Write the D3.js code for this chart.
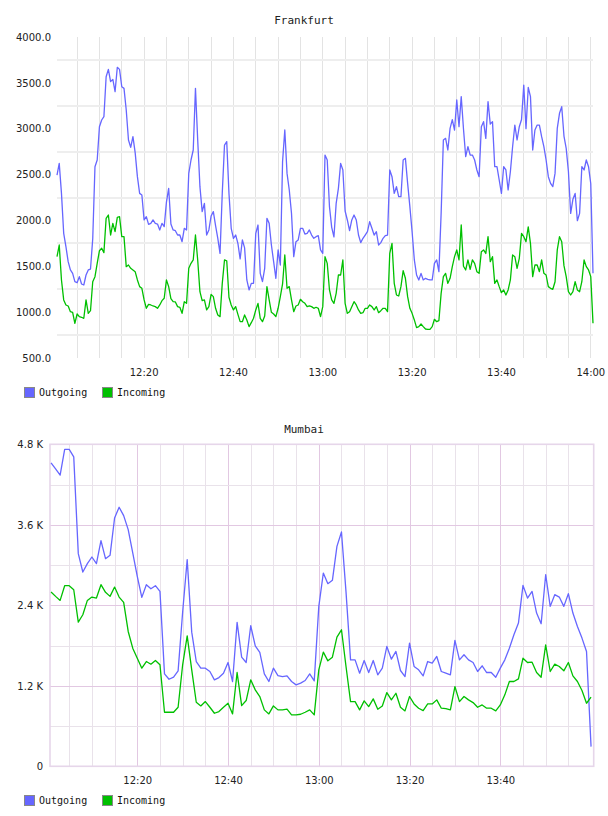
<!DOCTYPE html>
<html>
<head>
<meta charset="utf-8">
<script src="https://cdn.jsdelivr.net/npm/d3@7"></script>
<style>body{margin:0;background:#fff}</style>
</head>
<body>
<svg width="608" height="816"></svg>
<script>
// Frankfurt: one sample every 30 s from 12:00:36
const frankOut = [2495, 2622, 2295, 1859, 1714, 1550, 1460, 1423, 1332, 1321,
    1387, 1307, 1296, 1405, 1460, 1470, 1800, 2586, 2659, 3022,
    3095, 3131, 3567, 3647, 3513, 3538, 3404, 3669, 3647, 3458,
    3440, 3204, 2877, 2797, 2913, 2739, 2477, 2295, 2277, 2005,
    2041, 1957, 1968, 2005, 1968, 1961, 1896, 1968, 1932, 2200,
    2350, 1961, 1896, 1888, 1841, 1841, 1768, 1914, 1896, 2513,
    2659, 2768, 3440, 2877, 2368, 2096, 2186, 1841, 1896, 2048,
    2096, 1943, 1805, 1641, 2300, 2822, 2859, 2295, 1914, 1805,
    1841, 1750, 1580, 1787, 1700, 1351, 1242, 1314, 1314, 1859,
    1950, 1423, 1332, 1478, 2023, 1968, 1732, 1550, 1369, 1678,
    1514, 2641, 2986, 2513, 2332, 2077, 1605, 1768, 1787, 1914,
    1914, 1852, 1859, 1896, 1841, 1805, 1823, 1834, 1678, 1641,
    2713, 2659, 2150, 1925, 1820, 2186, 2350, 2622, 2550, 2103,
    2005, 1888, 2005, 2059, 2005, 1841, 1758, 1805, 1841, 1877,
    1986, 1914, 1841, 1877, 1732, 1758, 1805, 1834, 1841, 2550,
    2477, 2295, 2368, 2259, 2259, 2659, 2677, 2404, 2150, 1877,
    1569, 1405, 1351, 1423, 1351, 1369, 1358, 1351, 1351, 1532,
    1569, 1441, 2077, 2877, 2895, 2768, 3004, 3100, 2986, 3313,
    3022, 3350, 3000, 2695, 2804, 2713, 2713, 2659, 2550, 2477,
    3022, 3077, 2895, 3295, 3050, 3077, 2586, 2586, 2441, 2295,
    2586, 2550, 2332, 2531, 2804, 3040, 2877, 3022, 3100, 3476,
    3000, 3450, 3350, 2768, 2986, 3040, 3040, 2913, 2804, 2659,
    2477, 2404, 2368, 2513, 3004, 3168, 3240, 2920, 2786, 2531,
    2077, 2230, 2295, 1997, 2077, 2586, 2550, 2659, 2586, 2400,
    1423];
const frankIn = [1605, 1732, 1351, 1133, 1078, 1067, 1005, 998, 878, 980,
    951, 944, 933, 1133, 987, 1016, 1332, 1387, 1532, 1670,
    1696, 1649, 2023, 2059, 1841, 1968, 1878, 2034, 2041, 1823,
    1823, 1496, 1514, 1478, 1460, 1441, 1351, 1278, 1260, 1133,
    1042, 1085, 1078, 1067, 1060, 1042, 1078, 1125, 1151, 1351,
    1278, 1147, 1114, 1111, 1060, 1053, 987, 1114, 1096, 1478,
    1532, 1569, 1841, 1569, 1223, 1125, 1133, 1024, 1060, 1194,
    1169, 1042, 969, 951, 1314, 1569, 1560, 1162, 1078, 1024,
    1060, 976, 896, 896, 969, 915, 842, 885, 933, 1024,
    1096, 933, 896, 958, 1278, 1133, 998, 980, 951, 1042,
    1169, 1307, 1623, 1260, 1278, 1133, 1005, 1067, 1078, 1140,
    1114, 1096, 1060, 1067, 1060, 1042, 1053, 1042, 951, 1060,
    1605, 1532, 1242, 1133, 1096, 1205, 1405, 1405, 1569, 1096,
    987, 1005, 1060, 1114, 1078, 1024, 987, 994, 1042, 1042,
    1078, 1060, 1024, 1060, 994, 1016, 1042, 1042, 1005, 1641,
    1750, 1314, 1187, 1176, 1278, 1452, 1369, 1169, 1042, 987,
    915, 831, 842, 871, 842, 816, 813, 813, 842, 922,
    896, 907, 1205, 1387, 1423, 1314, 1369, 1496, 1605, 1678,
    1569, 1950, 1500, 1460, 1569, 1467, 1569, 1532, 1441, 1423,
    1659, 1678, 1640, 1823, 1550, 1605, 1314, 1351, 1278, 1212,
    1242, 1187, 1242, 1351, 1623, 1605, 1478, 1587, 1859, 1823,
    1768, 1930, 1750, 1387, 1514, 1514, 1441, 1569, 1423, 1405,
    1278, 1260, 1249, 1332, 1678, 1823, 1768, 1507, 1387, 1223,
    1187, 1223, 1332, 1242, 1223, 1332, 1569, 1496, 1460, 1387,
    878];
const frankYTicks = [500, 1000, 1500, 2000, 2500, 3000, 3500, 4000];
const frankGrid = [750, 1250, 1750, 2250, 2750, 3250, 3750];

// Mumbai: one sample a minute from 12:01
const mumOut = [4524, 4434, 4340, 4723, 4723, 4613, 3170, 2896, 3021, 3120,
    3021, 3364, 3095, 3145, 3702, 3862, 3737, 3528, 3180, 2832,
    2518, 2707, 2647, 2692, 2608, 1378, 1298, 1328, 1423, 2300,
    3081, 2000, 1562, 1463, 1463, 1413, 1289, 1323, 1388, 1547,
    1264, 2145, 1627, 1547, 2095, 1796, 1697, 1378, 1264, 1463,
    1353, 1338, 1348, 1264, 1214, 1239, 1279, 1378, 1274, 2380,
    2881, 2722, 2772, 3279, 3493, 2600, 1587, 1587, 1388, 1577,
    1398, 1577, 1363, 1463, 1786, 1597, 1712, 1428, 1338, 1836,
    1488, 1438, 1348, 1562, 1537, 1637, 1413, 1388, 1363, 1876,
    1587, 1662, 1587, 1547, 1413, 1498, 1398, 1398, 1328, 1463,
    1587, 1761, 1960, 2135, 2697, 2508, 2607, 2284, 2125, 2856,
    2384, 2558, 2523, 2384, 2573, 2284, 2085, 1911, 1712, 293];
const mumIn = [2598, 2533, 2473, 2692, 2692, 2632, 2150, 2259, 2473, 2523,
    2508, 2707, 2593, 2533, 2672, 2523, 2443, 2010, 1761, 1612,
    1463, 1562, 1522, 1577, 1513, 806, 806, 806, 880, 1513,
    1945, 1438, 955, 900, 965, 880, 791, 816, 880, 940,
    781, 1398, 905, 980, 1289, 1139, 1040, 841, 781, 900,
    841, 841, 851, 766, 766, 776, 806, 841, 766, 1438,
    1702, 1572, 1627, 1926, 2035, 1488, 965, 965, 841, 975,
    890, 1005, 851, 900, 1099, 990, 1089, 880, 826, 1040,
    930, 866, 831, 930, 930, 990, 866, 861, 841, 1189,
    965, 1040, 990, 950, 880, 915, 866, 866, 826, 915,
    1065, 1264, 1264, 1303, 1612, 1547, 1552, 1398, 1328, 1811,
    1413, 1522, 1488, 1423, 1547, 1348, 1264, 1129, 940, 1030];
const mumYTicks = [0, 1200, 2400, 3600, 4800];
const mumGridMinor = [600, 1800, 3000, 4200];
const mumYLabels = ["0", "1.2 K", "2.4 K", "3.6 K", "4.8 K"];

const series = ["Outgoing", "Incoming"];
const colors = ["#6666ff", "#00c000"];

const svg = d3.select("svg");
const at = (h, m, s) => new Date(2020, 0, 1, h, m, s || 0);
const steps = (start, n, sec) => d3.range(n).map(i => new Date(start.getTime() + i * sec * 1000));
const xTickTimes = [at(12, 20), at(12, 40), at(13, 0), at(13, 20), at(13, 40), at(14, 0)];
const tickFont = "'DejaVu Sans', sans-serif";
const monoFont = "'DejaVu Sans Mono', monospace";

function drawLines(x, y, times, data) {
    data.forEach((vals, i) => {
        const line = d3.line().x((d, j) => x(times[j])).y(d => y(d));
        svg.append("path").datum(vals)
            .attr("d", line)
            .attr("fill", "none")
            .attr("stroke", colors[i])
            .attr("stroke-width", 1.3)
            .attr("stroke-linejoin", "round");
    });
}

function legend(top) {
    const offs = [24, 102];
    series.forEach((name, i) => {
        svg.append("rect").attr("x", offs[i] + 0.5).attr("y", top + 0.5)
            .attr("width", 10).attr("height", 10)
            .attr("fill", colors[i]).attr("stroke", "#888");
        svg.append("text").attr("x", offs[i] + 15).attr("y", top + 5.5).attr("dy", "0.35em")
            .attr("font-family", monoFont).attr("font-size", 10).attr("fill", "#111")
            .text(name);
    });
}

function title(txt, yPos) {
    svg.append("text").attr("x", 304).attr("y", yPos).attr("dy", "0.35em")
        .attr("text-anchor", "middle")
        .attr("font-family", monoFont).attr("font-size", 11).attr("fill", "#222")
        .text(txt);
}

function styleAxis(g) {
    g.select(".domain").remove();
    g.selectAll("text").attr("font-family", tickFont).attr("font-size", 10).attr("fill", "#222");
}

// ---- Frankfurt ----
{
    const x = d3.scaleTime().domain([at(12, 0, 36), at(14, 0, 36)]).range([57, 593]);
    const y = d3.scaleLinear().domain([500, 4000]).range([358, 37]);
    const times = steps(at(12, 0, 36), frankOut.length, 30);

    svg.append("g").selectAll("line")
        .data(d3.timeMinute.every(5).range(at(12, 5), at(14, 0, 30)))
        .join("line")
        .attr("x1", d => Math.round(x(d)) + 0.5).attr("x2", d => Math.round(x(d)) + 0.5)
        .attr("y1", 37).attr("y2", 358)
        .attr("stroke", "#e3e3e3");
    svg.append("g").selectAll("line")
        .data(frankGrid)
        .join("line")
        .attr("x1", 57).attr("x2", 593)
        .attr("y1", d => Math.round(y(d))).attr("y2", d => Math.round(y(d)))
        .attr("stroke", "#eeeeee").attr("stroke-width", 2);

    drawLines(x, y, times, [frankOut, frankIn]);

    svg.append("g").attr("transform", "translate(57,0)")
        .call(d3.axisLeft(y).tickValues(frankYTicks).tickFormat(d3.format(".1f")).tickSize(0).tickPadding(6))
        .call(styleAxis);
    svg.append("g").attr("transform", "translate(0,358)")
        .call(d3.axisBottom(x).tickValues(xTickTimes).tickFormat(d3.timeFormat("%H:%M")).tickSize(0).tickPadding(11))
        .call(styleAxis);

    title("Frankfurt", 20.5);
    legend(387);
}

// ---- Mumbai ----
{
    const x = d3.scaleTime().domain([at(12, 0, 46), at(14, 0, 35)]).range([50, 593.7]);
    const y = d3.scaleLinear().domain([0, 4800]).range([766.3, 444.3]);
    const times = steps(at(12, 1), mumOut.length, 60);
    const fiveMin = d3.timeMinute.every(5).range(at(12, 5), at(13, 59));

    svg.append("g").selectAll("line")
        .data(fiveMin)
        .join("line")
        .attr("x1", d => Math.round(x(d)) + 0.5).attr("x2", d => Math.round(x(d)) + 0.5)
        .attr("y1", 444).attr("y2", 766)
        .attr("stroke", d => d.getMinutes() % 20 === 0 ? "#e2c8e2" : "#e9e2ea");
    svg.append("g").selectAll("line")
        .data(mumGridMinor.concat(mumYTicks.slice(1, 4)))
        .join("line")
        .attr("x1", 50).attr("x2", 593.7)
        .attr("y1", d => Math.round(y(d)) + 0.5).attr("y2", d => Math.round(y(d)) + 0.5)
        .attr("stroke", d => d % 1200 === 0 ? "#e2c8e2" : "#e9e2ea");
    svg.append("rect").attr("x", 50).attr("y", 444.3)
        .attr("width", 543.7).attr("height", 322)
        .attr("fill", "none").attr("stroke", "#e6d6ea").attr("stroke-width", 1.6);

    drawLines(x, y, times, [mumOut, mumIn]);

    svg.append("g").attr("transform", "translate(50,0)")
        .call(d3.axisLeft(y).tickValues(mumYTicks).tickFormat((d, i) => mumYLabels[i]).tickSize(0).tickPadding(7))
        .call(styleAxis);
    svg.append("g").attr("transform", "translate(0,766.3)")
        .call(d3.axisBottom(x).tickValues(xTickTimes.slice(0, 5)).tickFormat(d3.timeFormat("%H:%M")).tickSize(0).tickPadding(11))
        .call(styleAxis);

    title("Mumbai", 429);
    legend(795);
}
</script>
</body>
</html>
